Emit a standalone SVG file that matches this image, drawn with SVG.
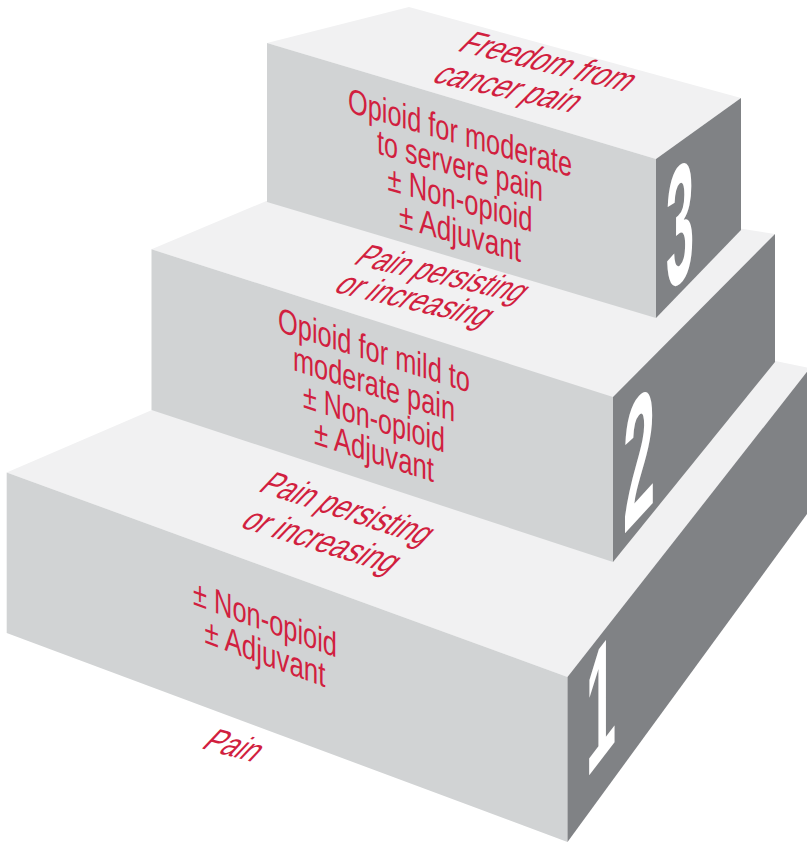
<svg xmlns="http://www.w3.org/2000/svg" width="807" height="843" viewBox="0 0 807 843">
  <style>
    .top{fill:#f1f1f2}
    .front{fill:#d1d3d4}
    .side{fill:#808285}
    .lbl{font-family:"Liberation Sans Narrow","Liberation Sans",Arial,sans-serif;fill:#d11f3f}
    .face{font-size:35px}
    .floor{font-size:33px}
    .num{font-family:"Liberation Sans Narrow","Liberation Sans",Arial,sans-serif;font-weight:bold;fill:#ffffff}
  </style>
  <rect width="807" height="843" fill="#ffffff"/>

  <!-- step 1: base block -->
  <g id="step1">
    <polygon class="top" points="6.7,472.5 567.5,677 810,368 429,291"/>
    <polygon class="front" points="6.7,472.5 567.5,677 567.5,842 6.7,633"/>
    <polygon class="side" points="567.5,677 810,368 810,510 567.5,842"/>
    <g class="lbl face" text-anchor="middle" transform="matrix(1,0.37,0,1,265,631)">
      <text x="0" y="0" textLength="144" lengthAdjust="spacingAndGlyphs">± Non-opioid</text>
      <text x="0" y="34" textLength="121" lengthAdjust="spacingAndGlyphs">± Adjuvant</text>
    </g>
    <text class="lbl floor" text-anchor="middle" transform="matrix(1,0.33,-0.8,0.85,339.5,518)" textLength="165" lengthAdjust="spacingAndGlyphs">Pain persisting</text>
    <text class="lbl floor" text-anchor="middle" transform="matrix(1,0.31,-0.8,0.85,313.5,550)" textLength="150" lengthAdjust="spacingAndGlyphs">or increasing</text>
    <text class="num" text-anchor="middle" font-size="165" transform="matrix(0.33,-0.43,0,1,601,760)">1</text>
  </g>

  <!-- step 2: middle block -->
  <g id="step2">
    <polygon class="top" points="151.5,249.3 613,397 775,234 347,167"/>
    <polygon class="front" points="151.5,249.3 613,397 613,562 151.5,410"/>
    <polygon class="side" points="613,397 775,234 775,362 613,562"/>
    <g class="lbl face" text-anchor="middle" transform="matrix(1,0.32,0,1,374,362)">
      <text x="0" y="0" textLength="192" lengthAdjust="spacingAndGlyphs">Opioid for mild to</text>
      <text x="0" y="34" textLength="162" lengthAdjust="spacingAndGlyphs">moderate pain</text>
      <text x="0" y="68" textLength="142" lengthAdjust="spacingAndGlyphs">± Non-opioid</text>
      <text x="0" y="101" textLength="120" lengthAdjust="spacingAndGlyphs">± Adjuvant</text>
    </g>
    <text class="lbl floor" text-anchor="middle" transform="matrix(1,0.233,-0.8,0.85,434.5,283)" textLength="165" lengthAdjust="spacingAndGlyphs">Pain persisting</text>
    <text class="lbl floor" text-anchor="middle" transform="matrix(1,0.233,-0.8,0.85,407,309)" textLength="150" lengthAdjust="spacingAndGlyphs">or increasing</text>
    <text class="num" text-anchor="middle" font-size="175" transform="matrix(0.33,-0.36,0,1,639,518)">2</text>
  </g>

  <!-- step 3: top block -->
  <g id="step3">
    <polygon class="top" points="267,43 656,159 741,98 409,7"/>
    <polygon class="front" points="267,43 656,159 656,318 267,202"/>
    <polygon class="side" points="656,159 741,98 741,230 656,318"/>
    <g class="lbl face" text-anchor="middle" transform="matrix(1,0.29,0,1,460,144.5)">
      <text x="0" y="0" textLength="224" lengthAdjust="spacingAndGlyphs">Opioid for moderate</text>
      <text x="0" y="33" textLength="166" lengthAdjust="spacingAndGlyphs">to servere pain</text>
      <text x="0" y="66.5" textLength="145" lengthAdjust="spacingAndGlyphs">± Non-opioid</text>
      <text x="0" y="100" textLength="122" lengthAdjust="spacingAndGlyphs">± Adjuvant</text>
    </g>
    <text class="lbl floor" text-anchor="middle" transform="matrix(1,0.245,-0.85,0.85,540,71)" textLength="168" lengthAdjust="spacingAndGlyphs">Freedom from</text>
    <text class="lbl floor" text-anchor="middle" transform="matrix(1,0.22,-0.85,0.85,500,97)" textLength="140" lengthAdjust="spacingAndGlyphs">cancer pain</text>
    <text class="num" text-anchor="middle" font-size="168" transform="matrix(0.3,-0.255,0,1,680,282)">3</text>
  </g>

  <!-- ground label below the base block -->
  <g id="label-pain">
    <text class="lbl floor" text-anchor="middle" transform="matrix(1,0.27,-0.8,0.85,226,755)" textLength="52" lengthAdjust="spacingAndGlyphs">Pain</text>
  </g>
</svg>
